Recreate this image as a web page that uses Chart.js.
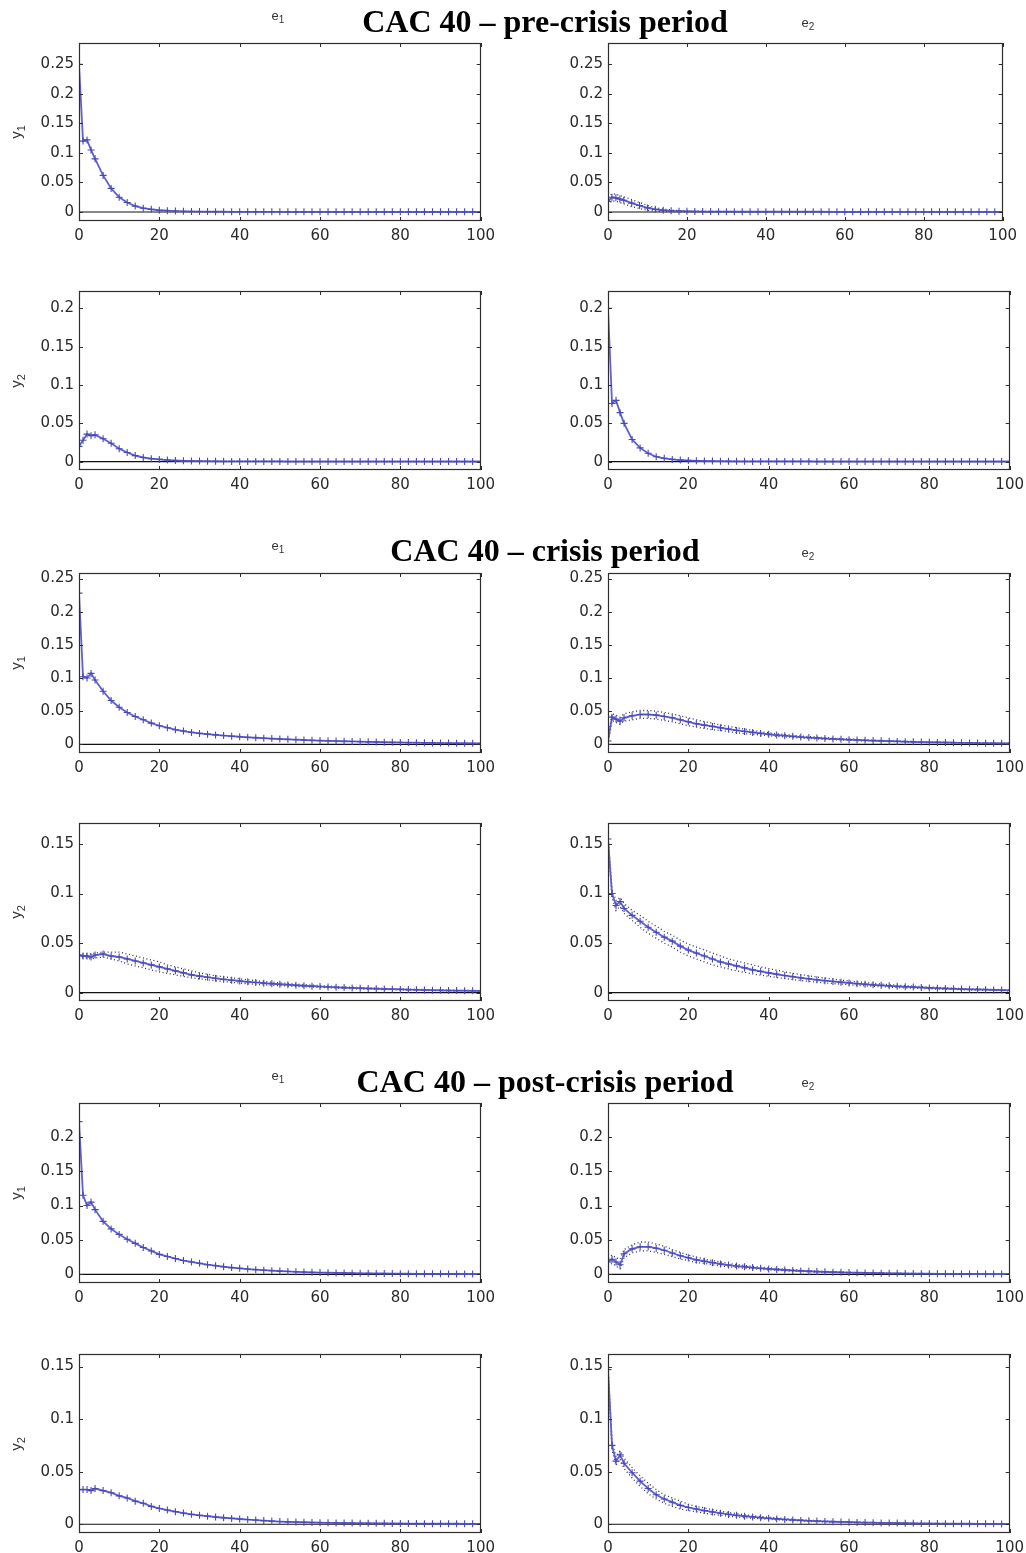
<!DOCTYPE html>
<html><head><meta charset="utf-8">
<script src="https://cdn.jsdelivr.net/npm/chart.js@4/dist/chart.umd.min.js"></script>
<style>
html,body{margin:0;padding:0;background:#fff;}
#root{position:relative;width:1026px;height:1553px;overflow:hidden;background:#fff;}
.title{position:absolute;left:0;width:1090px;text-align:center;font:bold 32px "Liberation Serif","Times New Roman",serif;line-height:32px;color:#000;white-space:nowrap;}
.elab{position:absolute;font:13px "Liberation Sans",Arial,sans-serif;line-height:13px;color:#333;transform:translate(-50%,-50%);white-space:nowrap;}
.elab sub{font-size:10px;line-height:10px;}
.ylab{position:absolute;font:15px "Liberation Sans",Arial,sans-serif;line-height:15px;color:#333;transform:translate(-50%,-50%) rotate(-90deg);white-space:nowrap;}
.ylab sub{font-size:11px;line-height:11px;}
canvas{position:absolute;}
</style>
</head><body><div id="root"></div>
<script>
// ---------------- DATA ----------------
const xs = [0,1,2,3,4,6,8,10,12,14,16,18,20,22,24,26,28,30,32,34,36,38,40,42,44,46,48,50,52,54,56,58,60,62,64,66,68,70,72,74,76,78,80,82,84,86,88,90,92,94,96,98,100];
const xTickVals = [0,20,40,60,80,100];
const xTickLabels = ['0','20','40','60','80','100'];
const yTickVals = [0,0.05,0.1,0.15,0.2,0.25];
const yTickLabels = ['0','0.05','0.1','0.15','0.2','0.25'];
const zeroX = [0,100];
const zeroY = [0,0];
const titles = ['CAC 40 \u2013 pre-crisis period','CAC 40 \u2013 crisis period','CAC 40 \u2013 post-crisis period'];
const shockLabels = ['1','2'];
const respLabels = ['1','2'];
const rowYMin = [-0.0152,-0.0108,-0.0131,-0.0084,-0.0126,-0.0083];
const rowYMax = [0.286,0.2226,0.2584,0.1712,0.249,0.1619];
const rowTickCount = [6,5,6,4,5,4];

// pre-crisis
const preY1E1 = [0.25,0.12,0.122,0.105,0.09,0.062,0.04,0.025,0.016,0.01,
 0.0065,0.0045,0.003,0.0022,0.0016,0.0012,0.001,0.0008,0.0007,0.0006,
 0.0005,0.0004,0.0004,0.0004,0.0004,0.0004,0.0004,0.0004,0.0003,0.0003,
 0.0003,0.0003,0.0003,0.0003,0.0003,0.0003,0.0003,0.0003,0.0003,0.0003,
 0.0003,0.0003,0.0003,0.0003,0.0003,0.0003,0.0003,0.0003,0.0003,0.0003,
 0.0003,0.0003,0.0003];
const preY1E2 = [0.018,0.025,0.024,0.022,0.02,0.015,0.011,0.007,0.0045,0.003,
 0.002,0.0015,0.0012,0.001,0.0008,0.0007,0.0006,0.0005,0.0005,0.0005,
 0.0005,0.0005,0.0005,0.0005,0.0005,0.0005,0.0005,0.0005,0.0005,0.0005,
 0.0004,0.0004,0.0004,0.0004,0.0004,0.0004,0.0004,0.0004,0.0004,0.0004,
 0.0004,0.0004,0.0004,0.0004,0.0004,0.0004,0.0004,0.0004,0.0004,0.0004,
 0.0004,0.0004,0.0004];
const preY1E2Up = [0.025,0.031,0.03,0.028,0.026,0.021,0.016,0.011,0.0075,0.005,
 0.0035,0.0025,0.002,0.0016,0.0013,0.0011,0.001,0.0009,0.0008,0.0008,
 0.0008,0.0008,0.0008,0.0008,0.0008,0.0008,0.0008,0.0008,0.0008,0.0008,
 0.0008,0.0008,0.0008,0.0008,0.0008,0.0008,0.0008,0.0008,0.0008,0.0008,
 0.0007,0.0007,0.0007,0.0007,0.0007,0.0007,0.0007,0.0007,0.0007,0.0007,
 0.0007,0.0007,0.0007];
const preY1E2Lo = [0.012,0.019,0.018,0.016,0.014,0.009,0.006,0.003,0.0015,0.001,
 0.0006,0.0005,0.0004,0.0003,0.0003,0.0003,0.0002,0.0002,0.0002,0.0002,
 0.0002,0.0002,0.0002,0.0002,0.0002,0.0002,0.0002,0.0002,0.0002,0.0002,
 0.0002,0.0002,0.0002,0.0002,0.0002,0.0002,0.0002,0.0002,0.0002,0.0002,
 0.0002,0.0002,0.0002,0.0002,0.0002,0.0002,0.0002,0.0002,0.0002,0.0002,
 0.0002,0.0002,0.0002];
const preY2E1 = [0.02,0.028,0.036,0.034,0.035,0.03,0.024,0.017,0.012,0.008,
 0.0055,0.004,0.003,0.0022,0.0016,0.0012,0.001,0.0008,0.0007,0.0006,
 0.0005,0.0004,0.0004,0.0004,0.0004,0.0004,0.0004,0.0004,0.0003,0.0003,
 0.0003,0.0003,0.0003,0.0003,0.0003,0.0003,0.0003,0.0003,0.0003,0.0003,
 0.0003,0.0003,0.0003,0.0003,0.0003,0.0003,0.0003,0.0003,0.0003,0.0003,
 0.0003,0.0003,0.0003];
const preY2E2 = [0.2,0.076,0.08,0.064,0.05,0.029,0.018,0.011,0.0065,0.0045,
 0.003,0.0022,0.0016,0.0012,0.001,0.0008,0.0007,0.0006,0.0005,0.0005,
 0.0004,0.0004,0.0004,0.0004,0.0004,0.0004,0.0004,0.0004,0.0003,0.0003,
 0.0003,0.0003,0.0003,0.0003,0.0003,0.0003,0.0003,0.0003,0.0003,0.0003,
 0.0003,0.0003,0.0003,0.0003,0.0003,0.0003,0.0003,0.0003,0.0003,0.0003,
 0.0003,0.0003,0.0003];

// crisis
const crisisY1E1 = [0.228,0.102,0.1,0.107,0.097,0.08,0.066,0.056,0.048,0.042,
 0.037,0.032,0.028,0.025,0.022,0.02,0.018,0.0165,0.0153,0.0142,
 0.0132,0.0122,0.0114,0.0106,0.0099,0.0092,0.0086,0.008,0.0075,0.007,
 0.0065,0.006,0.0056,0.0052,0.0049,0.0046,0.0043,0.004,0.0037,0.0035,
 0.0032,0.003,0.0028,0.0026,0.0024,0.0022,0.0021,0.0019,0.0018,0.0017,
 0.0016,0.0015,0.0014];
const crisisY1E2 = [0.005,0.041,0.038,0.035,0.04,0.043,0.045,0.045,0.044,0.042,
 0.04,0.037,0.034,0.031,0.029,0.027,0.025,0.023,0.021,0.0195,
 0.018,0.0165,0.0152,0.014,0.013,0.012,0.011,0.0102,0.0095,0.0088,
 0.0082,0.0076,0.007,0.0065,0.006,0.0056,0.0052,0.0048,0.0044,0.004,
 0.0037,0.0034,0.0031,0.0029,0.0027,0.0025,0.0023,0.0021,0.0019,0.0017,
 0.0016,0.0015,0.0014];
const crisisY1E2Up = [0.01,0.046,0.044,0.041,0.046,0.049,0.051,0.051,0.05,0.048,
 0.046,0.043,0.04,0.037,0.034,0.032,0.029,0.027,0.025,0.023,
 0.021,0.019,0.0175,0.016,0.0148,0.0137,0.0126,0.0116,0.0108,0.01,
 0.0093,0.0086,0.008,0.0074,0.0068,0.0063,0.0058,0.0054,0.005,0.0046,
 0.0042,0.0039,0.0036,0.0033,0.0031,0.0028,0.0026,0.0024,0.0022,0.002,
 0.0019,0.0018,0.0017];
const crisisY1E2Lo = [0.0,0.036,0.033,0.03,0.035,0.037,0.039,0.039,0.038,0.036,
 0.034,0.031,0.028,0.026,0.024,0.022,0.021,0.019,0.0175,0.016,
 0.015,0.014,0.013,0.012,0.0112,0.0103,0.0094,0.0088,0.0082,0.0076,
 0.0071,0.0066,0.0061,0.0056,0.0052,0.0049,0.0046,0.0042,0.0038,0.0034,
 0.0032,0.0029,0.0026,0.0025,0.0023,0.0022,0.002,0.0018,0.0016,0.0014,
 0.0013,0.0012,0.0011];
const crisisY2E1 = [0.038,0.037,0.037,0.036,0.038,0.039,0.037,0.036,0.034,0.032,
 0.03,0.028,0.026,0.024,0.022,0.02,0.018,0.0167,0.0156,0.0145,
 0.0135,0.0126,0.0118,0.011,0.0103,0.0096,0.009,0.0085,0.008,0.0075,
 0.007,0.0066,0.0062,0.0058,0.0054,0.0051,0.0048,0.0045,0.0042,0.004,
 0.0037,0.0035,0.0033,0.0031,0.0029,0.0027,0.0025,0.0024,0.0022,0.0021,
 0.002,0.0019,0.0018];
const crisisY2E1Up = [0.039,0.039,0.039,0.039,0.04,0.041,0.041,0.041,0.039,0.037,
 0.035,0.033,0.031,0.028,0.026,0.024,0.022,0.02,0.0185,0.017,
 0.016,0.015,0.014,0.013,0.0121,0.0113,0.0105,0.0099,0.0093,0.0087,
 0.0081,0.0076,0.0071,0.0067,0.0062,0.0058,0.0055,0.0052,0.0048,0.0046,
 0.0043,0.004,0.0038,0.0036,0.0034,0.0031,0.0029,0.0028,0.0026,0.0024,
 0.0023,0.0022,0.0021];
const crisisY2E1Lo = [0.037,0.035,0.035,0.034,0.035,0.036,0.034,0.032,0.029,0.027,
 0.025,0.023,0.021,0.0195,0.018,0.0165,0.015,0.014,0.013,0.012,
 0.0112,0.0104,0.0097,0.009,0.0085,0.0079,0.0075,0.0071,0.0067,0.0063,
 0.0059,0.0056,0.0053,0.0049,0.0046,0.0044,0.0041,0.0038,0.0036,0.0034,
 0.0031,0.003,0.0028,0.0026,0.0024,0.0023,0.0021,0.002,0.0018,0.0018,
 0.0017,0.0016,0.0015];
const crisisY2E2 = [0.155,0.1,0.088,0.092,0.085,0.078,0.072,0.066,0.061,0.056,
 0.052,0.047,0.043,0.04,0.037,0.034,0.031,0.029,0.027,0.025,
 0.023,0.0215,0.02,0.0186,0.0173,0.0161,0.015,0.014,0.013,0.0121,
 0.0113,0.0105,0.0098,0.0091,0.0085,0.0079,0.0074,0.0069,0.0064,0.006,
 0.0056,0.0052,0.0048,0.0045,0.0042,0.0039,0.0036,0.0034,0.0032,0.003,
 0.0028,0.0026,0.0024];
const crisisY2E2Up = [0.158,0.104,0.093,0.096,0.09,0.083,0.078,0.072,0.067,0.062,
 0.058,0.053,0.049,0.046,0.043,0.04,0.037,0.034,0.032,0.03,
 0.028,0.026,0.0243,0.0226,0.021,0.0196,0.0182,0.017,0.0158,0.0147,
 0.0137,0.0127,0.0118,0.011,0.0102,0.0095,0.0088,0.0082,0.0076,0.0071,
 0.0066,0.0062,0.0057,0.0053,0.005,0.0046,0.0043,0.004,0.0038,0.0035,
 0.0033,0.0031,0.0029];
const crisisY2E2Lo = [0.152,0.096,0.083,0.087,0.08,0.073,0.066,0.06,0.055,0.05,
 0.046,0.041,0.037,0.034,0.031,0.028,0.026,0.024,0.022,0.0205,
 0.019,0.0177,0.0165,0.0153,0.0142,0.0132,0.0123,0.0114,0.0106,0.0099,
 0.0092,0.0086,0.008,0.0074,0.0069,0.0064,0.006,0.0056,0.0052,0.0048,
 0.0045,0.0042,0.0039,0.0036,0.0034,0.0032,0.0029,0.0027,0.0025,0.0024,
 0.0022,0.0021,0.0019];

// post-crisis
const postY1E1 = [0.222,0.115,0.1,0.105,0.094,0.077,0.066,0.058,0.051,0.045,
 0.039,0.034,0.029,0.026,0.023,0.02,0.018,0.016,0.014,0.0125,
 0.011,0.0098,0.0087,0.0077,0.0068,0.006,0.0053,0.0047,0.0042,0.0037,
 0.0033,0.0029,0.0026,0.0023,0.0021,0.0019,0.0017,0.0015,0.0014,0.0013,
 0.0012,0.0011,0.001,0.0009,0.0008,0.0008,0.0007,0.0007,0.0006,0.0006,
 0.0005,0.0005,0.0005];
const postY1E2 = [0.018,0.022,0.018,0.014,0.03,0.037,0.04,0.04,0.038,0.035,
 0.031,0.027,0.024,0.021,0.019,0.017,0.015,0.0135,0.012,0.011,
 0.0098,0.0088,0.0079,0.007,0.0063,0.0056,0.005,0.0045,0.004,0.0036,
 0.0032,0.0029,0.0026,0.0023,0.0021,0.0019,0.0017,0.0015,0.0014,0.0012,
 0.0011,0.001,0.0009,0.0008,0.0008,0.0007,0.0006,0.0006,0.0005,0.0005,
 0.0004,0.0004,0.0004];
const postY1E2Up = [0.024,0.028,0.024,0.022,0.036,0.043,0.047,0.047,0.044,0.041,
 0.036,0.032,0.028,0.025,0.022,0.02,0.018,0.016,0.0143,0.013,
 0.0117,0.0105,0.0094,0.0084,0.0075,0.0067,0.006,0.0054,0.0048,0.0043,
 0.0039,0.0035,0.0031,0.0028,0.0025,0.0023,0.002,0.0018,0.0017,0.0015,
 0.0014,0.0012,0.0011,0.001,0.001,0.0009,0.0008,0.0008,0.0007,0.0007,
 0.0006,0.0006,0.0006];
const postY1E2Lo = [0.012,0.016,0.012,0.008,0.024,0.031,0.034,0.034,0.032,0.029,
 0.026,0.022,0.02,0.017,0.016,0.014,0.012,0.011,0.0098,0.009,
 0.008,0.0072,0.0064,0.0057,0.0051,0.0045,0.004,0.0036,0.0032,0.0029,
 0.0026,0.0023,0.0021,0.0018,0.0017,0.0015,0.0014,0.0012,0.0011,0.0009,
 0.0008,0.0008,0.0007,0.0006,0.0006,0.0005,0.0004,0.0004,0.0003,0.0003,
 0.0002,0.0002,0.0002];
const postY2E1 = [0.033,0.033,0.033,0.032,0.034,0.032,0.03,0.027,0.025,0.022,
 0.02,0.017,0.015,0.0135,0.012,0.0107,0.0095,0.0085,0.0077,0.0069,
 0.0062,0.0056,0.005,0.0045,0.004,0.0035,0.003,0.0026,0.0023,0.0021,
 0.0019,0.0017,0.0015,0.0014,0.0013,0.0012,0.0011,0.001,0.001,0.0009,
 0.0009,0.0008,0.0008,0.0007,0.0007,0.0006,0.0006,0.0005,0.0005,0.0005,
 0.0004,0.0004,0.0004];
const postY2E2 = [0.147,0.075,0.06,0.066,0.058,0.049,0.041,0.034,0.028,0.024,
 0.021,0.018,0.016,0.0145,0.013,0.0117,0.0105,0.0094,0.0085,0.0077,
 0.007,0.0063,0.0057,0.0051,0.0046,0.0041,0.0037,0.0033,0.003,0.0027,
 0.0024,0.0022,0.002,0.0018,0.0016,0.0015,0.0013,0.0012,0.0011,0.001,
 0.0009,0.0008,0.0008,0.0007,0.0006,0.0006,0.0005,0.0005,0.0004,0.0004,
 0.0004,0.0003,0.0003];
const postY2E2Up = [0.15,0.079,0.064,0.07,0.063,0.054,0.046,0.039,0.033,0.028,
 0.025,0.022,0.019,0.017,0.0155,0.014,0.0125,0.0112,0.0101,0.0091,
 0.0082,0.0074,0.0067,0.006,0.0054,0.0048,0.0043,0.0039,0.0035,0.0031,
 0.0028,0.0025,0.0023,0.0021,0.0019,0.0017,0.0015,0.0014,0.0013,0.0012,
 0.0011,0.001,0.0009,0.0008,0.0007,0.0007,0.0006,0.0006,0.0005,0.0005,
 0.0005,0.0004,0.0004];
const postY2E2Lo = [0.144,0.071,0.056,0.062,0.053,0.044,0.036,0.029,0.024,0.02,
 0.017,0.0145,0.013,0.012,0.0105,0.0094,0.0085,0.0076,0.0069,0.0063,
 0.0058,0.0052,0.0047,0.0042,0.0038,0.0034,0.0031,0.0027,0.0025,0.0023,
 0.002,0.0019,0.0017,0.0015,0.0013,0.0013,0.0011,0.001,0.0009,0.0008,
 0.0007,0.0006,0.0007,0.0006,0.0005,0.0005,0.0004,0.0004,0.0003,0.0003,
 0.0003,0.0002,0.0002];

// ---------------- LAYOUT ----------------
const root = document.getElementById('root');
const FONT_TICK = '"DejaVu Sans", "Liberation Sans", Arial, sans-serif';
const colLeft = [79, 608];
const rowTop = [43, 291, 573, 823, 1103, 1354];
const rowH = [178, 179, 180, 178, 180, 179];
const boxW = 402;

const panels = [
  {row:0,col:0,mean:preY1E1},
  {row:0,col:1,mean:preY1E2,up:preY1E2Up,lo:preY1E2Lo,w:395},
  {row:1,col:0,mean:preY2E1},
  {row:1,col:1,mean:preY2E2},
  {row:2,col:0,mean:crisisY1E1},
  {row:2,col:1,mean:crisisY1E2,up:crisisY1E2Up,lo:crisisY1E2Lo},
  {row:3,col:0,mean:crisisY2E1,up:crisisY2E1Up,lo:crisisY2E1Lo},
  {row:3,col:1,mean:crisisY2E2,up:crisisY2E2Up,lo:crisisY2E2Lo},
  {row:4,col:0,mean:postY1E1},
  {row:4,col:1,mean:postY1E2,up:postY1E2Up,lo:postY1E2Lo},
  {row:5,col:0,mean:postY2E1},
  {row:5,col:1,mean:postY2E2,up:postY2E2Up,lo:postY2E2Lo}
];

function pts(xArr, yArr){
  const n = Math.min(xArr.length, yArr.length);
  if (xArr.length !== yArr.length) console.warn('length mismatch', xArr.length, yArr.length);
  const out = [];
  for (let i=0;i<n;i++) out.push({x:xArr[i], y:yArr[i]});
  return out;
}

const boxPlugin = {
  id:'matlabBox',
  afterDraw(chart, args, opts){
    const {ctx, chartArea:a, scales} = chart;
    const yt = (opts && opts.yt) || [];
    ctx.save();
    ctx.strokeStyle = '#2e2e2e';
    ctx.lineWidth = 1.2;
    ctx.strokeRect(Math.round(a.left)+0.5, Math.round(a.top)+0.5, Math.round(a.right-a.left)-1, Math.round(a.bottom-a.top)-1);
    const tl = 4;
    ctx.lineWidth = 1;
    ctx.beginPath();
    xTickVals.forEach(v=>{
      const px = Math.round(scales.x.getPixelForValue(v))+0.5;
      ctx.moveTo(px, a.bottom); ctx.lineTo(px, a.bottom-tl);
      ctx.moveTo(px, a.top); ctx.lineTo(px, a.top+tl);
    });
    yt.forEach(v=>{
      const py = Math.round(scales.y.getPixelForValue(v))+0.5;
      ctx.moveTo(a.left, py); ctx.lineTo(a.left+tl, py);
      ctx.moveTo(a.right, py); ctx.lineTo(a.right-tl, py);
    });
    ctx.stroke();
    ctx.restore();
  }
};

function config(p, yt){
  const ds = [];
  ds.push({data:pts(xs,p.mean), borderColor:'rgb(96,96,210)', borderWidth:1.8,
    pointStyle:'cross', pointRadius:3.5, pointBorderWidth:1.1, pointBorderColor:'rgb(72,72,185)',
    pointBackgroundColor:'rgb(72,72,185)', tension:0, order:0});
  if (p.up){
    ds.push({data:pts(xs,p.up), borderColor:'rgb(45,45,95)', borderWidth:1.3, borderDash:[1,2.6], pointRadius:0, tension:0, order:1});
    ds.push({data:pts(xs,p.lo), borderColor:'rgb(45,45,95)', borderWidth:1.3, borderDash:[1,2.6], pointRadius:0, tension:0, order:1});
  }
  ds.push({data:pts(zeroX,zeroY), borderColor:'#111', borderWidth:1.2, pointRadius:0, order:3});
  return {
    type:'line',
    data:{datasets:ds},
    options:{
      responsive:false, maintainAspectRatio:false, animation:false, devicePixelRatio:1,
      layout:{padding:0},
      events:[],
      plugins:{legend:{display:false}, tooltip:{enabled:false}, title:{display:false}, matlabBox:{yt:yt}},
      scales:{
        x:{type:'linear', min:0, max:100,
          grid:{display:false, drawTicks:false}, border:{display:false},
          afterBuildTicks:s=>{ s.ticks = xTickVals.map(v=>({value:v})); },
          afterFit:s=>{ s.height = 28; },
          ticks:{padding:6, color:'#2a2a2a', font:{family:FONT_TICK, size:15}, maxRotation:0, autoSkip:false,
            callback:(v)=>{ const i = xTickVals.indexOf(v); return i>=0 ? xTickLabels[i] : ''; }}
        },
        y:{type:'linear', min:rowYMin[p.row], max:rowYMax[p.row],
          grid:{display:false, drawTicks:false}, border:{display:false},
          afterBuildTicks:s=>{ s.ticks = yt.map(v=>({value:v})); },
          afterFit:s=>{ s.width = 70; },
          ticks:{padding:5, color:'#2a2a2a', font:{family:FONT_TICK, size:15}, autoSkip:false,
            callback:(v)=>{ let i=-1; yTickVals.forEach((t,k)=>{ if (Math.abs(t-v)<1e-9) i=k; }); return i>=0 ? yTickLabels[i] : ''; }}
        }
      }
    },
    plugins:[boxPlugin]
  };
}

function makePanel(p){
  const bw = p.w || boxW, bh = rowH[p.row];
  const bx = colLeft[p.col], by = rowTop[p.row];
  const yt = yTickVals.slice(0, rowTickCount[p.row]);
  const cv = document.createElement('canvas');
  root.appendChild(cv);
  let W = 70 + bw + 20, H = 10 + bh + 30;
  const setSize = ()=>{ cv.width=W; cv.height=H; cv.style.width=W+'px'; cv.style.height=H+'px'; };
  setSize();
  let ch = new Chart(cv, config(p, yt));
  let a = ch.chartArea;
  const dw = bw - (a.right - a.left), dh = bh - (a.bottom - a.top);
  if (Math.abs(dw) > 0.01 || Math.abs(dh) > 0.01){
    ch.destroy();
    W = Math.round(W + dw); H = Math.round(H + dh);
    setSize();
    ch = new Chart(cv, config(p, yt));
    a = ch.chartArea;
  }
  cv.style.left = (bx - a.left) + 'px';
  cv.style.top = (by - a.top) + 'px';
}

panels.forEach(makePanel);

// titles and labels
const titleTops = [5, 534, 1065];
const e1Y = [16.5, 546.5, 1077];
const e2Y = [23.5, 553.5, 1083.5];
titles.forEach((t,g)=>{
  const d = document.createElement('div');
  d.className='title'; d.textContent=t; d.style.top = titleTops[g]+'px';
  root.appendChild(d);
  [[278,e1Y[g],shockLabels[0]],[808,e2Y[g],shockLabels[1]]].forEach(([x,y,s])=>{
    const e = document.createElement('div');
    e.className='elab'; e.innerHTML='e<sub>'+s+'</sub>';
    e.style.left=x+'px'; e.style.top=y+'px';
    root.appendChild(e);
  });
});
rowTop.forEach((t,r)=>{
  const d = document.createElement('div');
  d.className='ylab'; d.innerHTML='y<sub>'+respLabels[r%2]+'</sub>';
  d.style.left='17px'; d.style.top=(t + rowH[r]/2)+'px';
  root.appendChild(d);
});
</script>
</body></html>
